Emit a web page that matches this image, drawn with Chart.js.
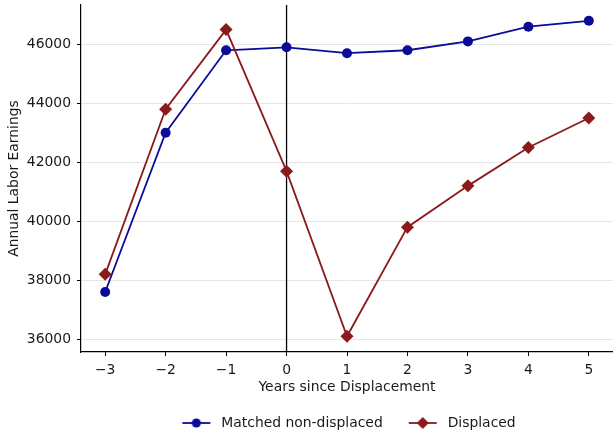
<!DOCTYPE html>
<html>
<head>
<meta charset="utf-8">
<script src="https://cdn.jsdelivr.net/npm/chart.js@4/dist/chart.umd.min.js"></script>
<style>
  html, body { margin: 0; padding: 0; background: #ffffff; }
  #wrap { width: 613px; height: 436px; position: relative; }
</style>
</head>
<body>
<div id="wrap"><canvas id="c" width="613" height="436"></canvas></div>
<script>
// ---- data ----
const years = [-3, -2, -1, 0, 1, 2, 3, 4, 5];
const matchedNonDisplaced = [37600, 43000, 45800, 45900, 45700, 45800, 46100, 46600, 46800];
const displaced = [38200, 43800, 46500, 41700, 36100, 39800, 41200, 42500, 43500];
const xTickValues = [-3, -2, -1, 0, 1, 2, 3, 4, 5];
const yTickValues = [36000, 38000, 40000, 42000, 44000, 46000];
const seriesNames = ['Matched non-displaced', 'Displaced'];
const eventYear = 0;

// ---- styles ----
const BLUE = '#0b0b98';
const RED = '#8b1a1a';
const FONT = "'DejaVu Sans', sans-serif";
const FS = 13.9;
const TEXT = '#1a1a1a';

function legendIcon(color, style) {
  const c = document.createElement('canvas');
  c.width = 30; c.height = 14;
  const g = c.getContext('2d');
  g.strokeStyle = color; g.lineWidth = 1.8;
  g.beginPath(); g.moveTo(1, 7); g.lineTo(29, 7); g.stroke();
  g.fillStyle = color;
  g.beginPath();
  if (style === 'circle') {
    g.arc(15, 7, 4.6, 0, Math.PI * 2);
  } else {
    g.moveTo(15, 1); g.lineTo(21, 7); g.lineTo(15, 13); g.lineTo(9, 7); g.closePath();
  }
  g.fill();
  return c;
}

const toPoints = (xs, ys) => xs.map((x, i) => ({ x: x, y: ys[i] }));

const vlinePlugin = {
  id: 'vline',
  beforeDatasetsDraw(chart) {
    const { ctx, chartArea, scales } = chart;
    const px = scales.x.getPixelForValue(eventYear);
    ctx.save();
    ctx.strokeStyle = '#000000';
    ctx.lineWidth = 1.3;
    ctx.beginPath();
    ctx.moveTo(px, chartArea.top);
    ctx.lineTo(px, chartArea.bottom);
    ctx.stroke();
    ctx.restore();
  }
};

const icons = [legendIcon(BLUE, 'circle'), legendIcon(RED, 'diamond')];

new Chart(document.getElementById('c'), {
  type: 'line',
  data: {
    datasets: [
      {
        label: seriesNames[0],
        data: toPoints(years, matchedNonDisplaced),
        borderColor: BLUE, backgroundColor: BLUE,
        borderWidth: 1.8, pointStyle: 'circle', pointRadius: 5,
        pointBorderWidth: 0, pointHoverRadius: 5, order: 1
      },
      {
        label: seriesNames[1],
        data: toPoints(years, displaced),
        borderColor: RED, backgroundColor: RED,
        borderWidth: 1.8, pointStyle: 'rectRot', pointRadius: 6.5,
        pointBorderWidth: 0, pointHoverRadius: 6.5, order: 0
      }
    ]
  },
  options: {
    responsive: false,
    animation: false,
    devicePixelRatio: 1,
    layout: { autoPadding: false, padding: { top: 5, right: 0, left: 0, bottom: 0 } },
    plugins: {
      tooltip: { enabled: false },
      legend: {
        position: 'bottom',
        fullSize: false,
        maxHeight: 42,
        labels: {
          usePointStyle: true,
          pointStyleWidth: 36,
          padding: 22,
          color: TEXT,
          font: { family: FONT, size: FS },
          sort: (a, b) => a.datasetIndex - b.datasetIndex,
          generateLabels(chart) {
            return chart.data.datasets.map((ds, i) => ({
              text: ds.label,
              pointStyle: icons[i],
              fillStyle: ds.borderColor,
              strokeStyle: ds.borderColor,
              lineWidth: 0,
              hidden: false,
              datasetIndex: i,
              fontColor: TEXT
            }));
          }
        }
      }
    },
    scales: {
      x: {
        type: 'linear',
        min: -3.4, max: 5.4,
        afterBuildTicks(s) { s.ticks = xTickValues.map(v => ({ value: v })); },
        afterFit(s) { s.height = 42; s.paddingLeft = 0; s.paddingRight = 0; },
        ticks: {
          color: TEXT, font: { family: FONT, size: FS }, padding: 6,
          callback: v => (v < 0 ? '\u2212' + Math.abs(v) : String(v))
        },
        grid: { drawOnChartArea: false, drawTicks: true, tickLength: 4, tickColor: '#000', tickWidth: 1 },
        border: { color: '#000', width: 1.2 },
        title: { display: true, text: 'Years since Displacement', color: TEXT,
                 font: { family: FONT, size: FS }, padding: { top: 0, bottom: -2 } }
      },
      y: {
        type: 'linear',
        min: 35565, max: 47335,
        afterBuildTicks(s) { s.ticks = yTickValues.map(v => ({ value: v })); },
        afterFit(s) { s.width = 81; s.paddingTop = 0; s.paddingBottom = 0; },
        ticks: {
          color: TEXT, font: { family: FONT, size: FS }, padding: 6,
          callback: v => String(v)
        },
        grid: { color: '#e6e6e6', lineWidth: 1, drawTicks: true, tickLength: 4, tickColor: '#000', tickWidth: 1 },
        border: { color: '#000', width: 1.2 },
        title: { display: true, text: 'Annual Labor Earnings', color: TEXT,
                 font: { family: FONT, size: FS }, padding: { top: 6, bottom: 0 } }
      }
    }
  },
  plugins: [vlinePlugin]
});
</script>
</body>
</html>
